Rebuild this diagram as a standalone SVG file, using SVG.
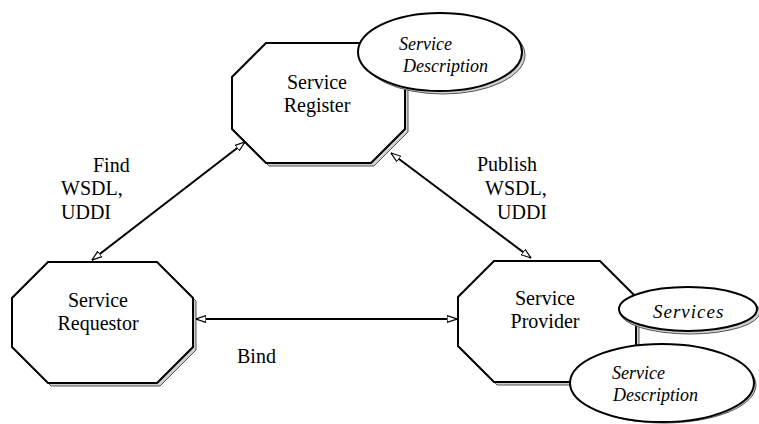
<svg xmlns="http://www.w3.org/2000/svg" width="759" height="424" viewBox="0 0 759 424">
<defs>
<style>
.oct{fill:#fff;stroke:#000;stroke-width:2}
.sh{fill:#d0d0d0;stroke:#555;stroke-width:1}
.ell{fill:#fff;stroke:#000;stroke-width:2}
text{font-family:'Liberation Serif','Times New Roman',serif;fill:#000}
.t{font-size:20px}
.c{text-anchor:middle}
.i{font-size:18px;font-style:italic}
.con{stroke:#000;stroke-width:2;fill:none;marker-start:url(#ah);marker-end:url(#ah)}
</style>
<marker id="ah" viewBox="0 0 10 8" refX="10" refY="4" markerWidth="5" markerHeight="4" orient="auto-start-reverse" markerUnits="strokeWidth">
<path d="M0,0.6 L10,4 L0,7.4 Z" fill="#fff" stroke="#000" stroke-width="1.2"/>
</marker>
</defs>
<rect width="759" height="424" fill="#fff"/>
<g id="register">
<polygon class="sh" points="269,46 374,46 408,80 408,132 374,166 269,166 235,132 235,80"/>
<polygon class="oct" points="266,43 371,43 405,77 405,129 371,163 266,163 232,129 232,77"/>
<text class="t c" x="317" y="89">Service</text>
<text class="t c" x="317" y="112">Register</text>
</g>
<g id="register-desc">
<ellipse class="sh" cx="443" cy="55" rx="82" ry="39"/>
<ellipse class="ell" cx="440" cy="52" rx="82" ry="39"/>
<text class="i" x="399" y="50">Service</text>
<text class="i" x="403" y="72">Description</text>
</g>
<g id="requestor">
<polygon class="sh" points="51,265 160,265 196,301 196,350 160,386 51,386 15,350 15,301"/>
<polygon class="oct" points="48,262 157,262 193,298 193,347 157,383 48,383 12,347 12,298"/>
<text class="t c" x="98" y="307">Service</text>
<text class="t c" x="98" y="330">Requestor</text>
</g>
<g id="provider">
<polygon class="sh" points="497,264 603,264 639,300 639,349 603,385 497,385 461,349 461,300"/>
<polygon class="oct" points="494,261 600,261 636,297 636,346 600,382 494,382 458,346 458,297"/>
<text class="t c" x="545" y="305">Service</text>
<text class="t c" x="545" y="328">Provider</text>
</g>
<g id="services">
<ellipse class="sh" cx="690" cy="312" rx="70" ry="22"/>
<ellipse class="ell" cx="688" cy="309" rx="69" ry="22"/>
<text class="i" x="653" y="318" style="font-size:19px;letter-spacing:1px">Services</text>
</g>
<g id="provider-desc">
<ellipse class="sh" cx="664" cy="385" rx="92" ry="38"/>
<ellipse class="ell" cx="662" cy="383" rx="92" ry="39"/>
<text class="i" x="612" y="379">Service</text>
<text class="i" x="613" y="401">Description</text>
</g>
<g id="connectors">
<line class="con" x1="92" y1="260" x2="245" y2="142"/>
<line class="con" x1="391" y1="153" x2="531" y2="258"/>
<line class="con" x1="196" y1="319" x2="457" y2="319"/>
</g>
<g id="labels">
<text class="t" x="93" y="172">Find</text>
<text class="t" x="61" y="195">WSDL,</text>
<text class="t" x="61" y="219">UDDI</text>
<text class="t" x="477" y="171">Publish</text>
<text class="t" x="485" y="195">WSDL,</text>
<text class="t" x="497" y="219">UDDI</text>
<text class="t" x="237" y="363">Bind</text>
</g>
</svg>
